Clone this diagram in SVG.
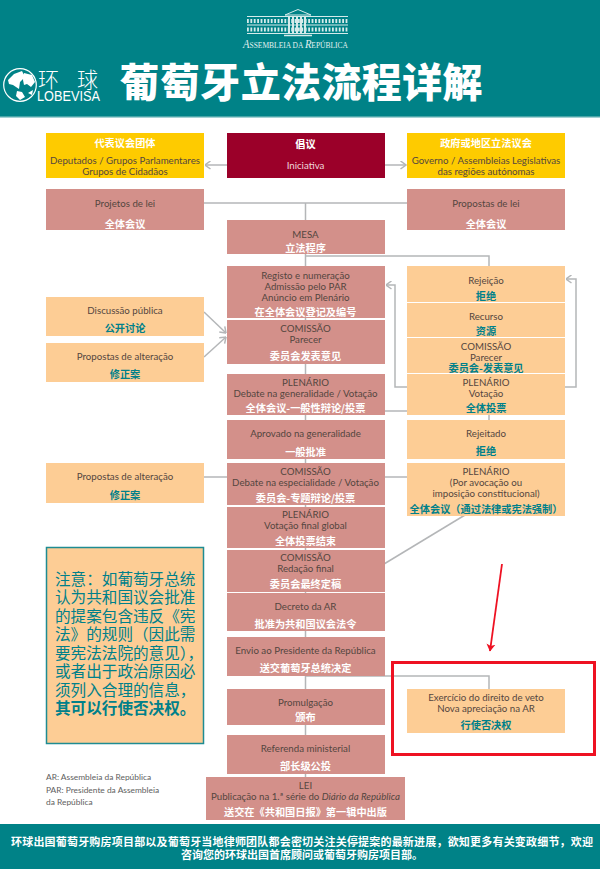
<svg xmlns="http://www.w3.org/2000/svg" width="600" height="869" viewBox="0 0 600 869">
<style>
text{font-family:"Lato","Noto Sans CJK SC",sans-serif;text-anchor:middle;font-size:9.7px;fill:#54463f}
.zw,.zt,.ftx{font-family:"Noto Sans CJK SC",sans-serif;font-weight:700}
.zw{font-size:10.2px;fill:#fff}
.zt{font-size:10.2px;fill:#00808a}
.sal{fill:#d3908a}.pea{fill:#fdcd95}.yel{fill:#fecb00}.cri{fill:#9b0029}
.con{fill:none;stroke:#b4b6b8;stroke-width:1.5}
.note{font-family:"Noto Sans CJK SC",sans-serif;font-size:15.6px;fill:#00808a;text-anchor:start}
.leg{font-size:8.4px;fill:#606060;text-anchor:start}
.ftx{font-size:11px;fill:#fff}
</style>
<defs>
<marker id="arrf" viewBox="0 0 7 9" refX="6.500" refY="4.500" markerWidth="7" markerHeight="9" markerUnits="userSpaceOnUse" orient="auto"><path d="M1 .5L6.500 4.500L1 8.500" fill="none" stroke="#b4b6b8" stroke-width="1.500"/></marker>
<marker id="red" viewBox="0 0 8 10" refX="7" refY="5" markerWidth="8" markerHeight="10" markerUnits="userSpaceOnUse" orient="auto"><path d="M0 .5L7.500 5L0 9.500L2 5Z" fill="#ee1122"/></marker>
</defs>
<rect width="600" height="869" fill="#fff"/>

<g id="header">
<rect width="600" height="117" fill="#008287"/>
<rect y="116" width="600" height="1.500" fill="#4aa6a9"/>
<g id="parliament-logo" fill="none" stroke="#d6ebeb">
<path d="M285 15L298 9.500L311 15H285Z" stroke-width="1"/>
<path d="M247 16.500H348M247 25H348M247 33.500H348" stroke-width="1"/>
<path d="M247 21H348M247 29.500H348" stroke-width="4" stroke-dasharray="1.800 1.600"/>
<path d="M289 16V34M293 16V34M297 16V34M301 16V34M305 16V34" stroke-width="2"/>
<path d="M284 35.500H312" stroke-width="1.500"/>
</g>
<text x="295.500" y="47.500" font-family="Liberation Serif, serif" fill="#e2f0f0" style="font-family:'Liberation Serif',serif;font-size:8.500px;fill:#e2f0f0" textLength="105" lengthAdjust="spacingAndGlyphs"><tspan font-style="italic" style="font-size:12px">A</tspan>SSEMBLEIA DA <tspan font-style="italic" style="font-size:12px">R</tspan>EPÚBLICA</text>
<g id="globevisa-logo">
<circle cx="20" cy="85" r="16.300" fill="#008287" stroke="#fff" stroke-width="1.200"/>
<path d="M8 80L14 74L22 71L25 77L20 82L19 89L13 85L9 84Z M24 73L32 75L35 82L31 87L27 84L24 85L23 80Z M17 91L22 92L25 97L20 100L16 96Z M28 93L33 90L32 95Z" fill="#fff"/>
<text x="38 77" y="87" style="font-family:'Noto Sans CJK SC',sans-serif;font-size:21px;fill:#fff;text-anchor:start;font-weight:300">环球</text>
<text x="68.500" y="101" style="font-family:'Liberation Sans',sans-serif;font-size:14.500px;fill:#fff" textLength="63" lengthAdjust="spacingAndGlyphs">LOBEVISA</text>
</g>
<text x="301" y="97" style="font-family:'Noto Sans CJK SC',sans-serif;font-size:40px;font-weight:900;fill:#fff" textLength="363">葡萄牙立法流程详解</text>
</g>

<g id="connectors">
<path class="con" d="M305.500 203V777"/>
<path class="con" d="M204 203H407"/>
<path class="con" d="M305.500 256H489V266"/>
<path class="con" d="M227 165H205" marker-end="url(#arrf)"/>
<path class="con" d="M384 165H406" marker-end="url(#arrf)"/>
<path class="con" d="M407 387H395V285H386" marker-end="url(#arrf)"/>
<path class="con" d="M565 387H576V279H566" marker-end="url(#arrf)"/>
<path class="con" d="M204 312L226 333" marker-end="url(#arrf)"/>
<path class="con" d="M204 357L226 337" marker-end="url(#arrf)"/>
<path class="con" d="M384 411H407"/>
<path class="con" d="M489 415V420"/>
<path class="con" d="M204 477H407"/>
<path class="con" d="M465 515L384 564"/>
<path class="con" d="M305.500 676H489V689"/>
</g>

<g id="red-annotation">
<path d="M502 564L490 651" fill="none" stroke="#ee1122" stroke-width="1.800" marker-end="url(#red)"/>
<rect x="392.500" y="662.500" width="202" height="92" fill="none" stroke="#ee1122" stroke-width="3"/>
</g>

<g id="n-deputados"><rect class="yel" x="46" y="133" width="158" height="45"/>
<text><tspan class="zw" x="125" y="147">代表议会团体</tspan><tspan x="125" y="163.500">Deputados / Grupos Parlamentares</tspan><tspan x="125" y="174.500">Grupos de Cidadãos</tspan></text></g>
<g id="n-iniciativa"><rect class="cri" x="227" y="133" width="158" height="45"/>
<text><tspan class="zw" x="305.500" y="148">倡议</tspan><tspan style="fill:#f0d8dc" x="305.500" y="169">Iniciativa</tspan></text></g>
<g id="n-governo"><rect class="yel" x="407" y="133" width="158" height="45"/>
<text><tspan class="zw" x="486" y="147">政府或地区立法议会</tspan><tspan x="486" y="163.500">Governo / Assembleias Legislativas</tspan><tspan x="486" y="174.500">das regiões autónomas</tspan></text></g>

<g id="n-projetos"><rect class="sal" x="46" y="189" width="158" height="41"/>
<text><tspan x="125" y="206.500">Projetos de lei</tspan><tspan class="zw" x="125" y="228">全体会议</tspan></text></g>
<g id="n-propostas-lei"><rect class="sal" x="407" y="189" width="158" height="41"/>
<text><tspan x="486" y="206.500">Propostas de lei</tspan><tspan class="zw" x="486" y="228">全体会议</tspan></text></g>
<g id="n-mesa"><rect class="sal" x="227" y="220" width="158" height="34"/>
<text><tspan x="305.500" y="237.500">MESA</tspan><tspan class="zw" x="305.500" y="252">立法程序</tspan></text></g>

<g id="n-registo"><rect class="sal" x="227" y="266" width="158" height="52"/>
<text><tspan x="305.500" y="279">Registo e numeração</tspan><tspan x="305.500" y="290">Admissão pelo PAR</tspan><tspan x="305.500" y="300.500">Anúncio em Plenário</tspan><tspan class="zw" x="305.500" y="316">在全体会议登记及编号</tspan></text></g>
<g id="n-comissao-parecer"><rect class="sal" x="227" y="320" width="158" height="44"/>
<text><tspan x="305.500" y="332">COMISSÃO</tspan><tspan x="305.500" y="343">Parecer</tspan><tspan class="zw" x="305.500" y="360">委员会发表意见</tspan></text></g>
<g id="n-plenario-gen"><rect class="sal" x="227" y="374" width="158" height="41"/>
<text><tspan x="305.500" y="385.500">PLENÁRIO</tspan><tspan x="305.500" y="396.500">Debate na generalidade / Votação</tspan><tspan class="zw" x="305.500" y="412">全体会议-一般性辩论/投票</tspan></text></g>
<g id="n-aprovado"><rect class="sal" x="227" y="420" width="158" height="39"/>
<text><tspan x="305.500" y="437">Aprovado na generalidade</tspan><tspan class="zw" x="305.500" y="455.500">一般批准</tspan></text></g>
<g id="n-comissao-esp"><rect class="sal" x="227" y="463" width="158" height="42"/>
<text><tspan x="305.500" y="475">COMISSÃO</tspan><tspan x="305.500" y="486">Debate na especialidade / Votação</tspan><tspan class="zw" x="305.500" y="501.500">委员会-专题辩论/投票</tspan></text></g>
<g id="n-plenario-final"><rect class="sal" x="227" y="507" width="158" height="41"/>
<text><tspan x="305.500" y="518">PLENÁRIO</tspan><tspan x="305.500" y="529">Votação final global</tspan><tspan class="zw" x="305.500" y="544.500">全体投票结束</tspan></text></g>
<g id="n-comissao-red"><rect class="sal" x="227" y="550" width="158" height="42"/>
<text><tspan x="305.500" y="561">COMISSÃO</tspan><tspan x="305.500" y="572">Redação final</tspan><tspan class="zw" x="305.500" y="588">委员会最终定稿</tspan></text></g>
<g id="n-decreto"><rect class="sal" x="227" y="593" width="158" height="38"/>
<text><tspan x="305.500" y="610">Decreto da AR</tspan><tspan class="zw" x="305.500" y="628">批准为共和国议会法令</tspan></text></g>
<g id="n-envio"><rect class="sal" x="227" y="637" width="158" height="39"/>
<text><tspan x="305.500" y="654">Envio ao Presidente da República</tspan><tspan class="zw" x="305.500" y="672">送交葡萄牙总统决定</tspan></text></g>
<g id="n-promulgacao"><rect class="sal" x="227" y="689" width="158" height="36"/>
<text><tspan x="305.500" y="706">Promulgação</tspan><tspan class="zw" x="305.500" y="721">颁布</tspan></text></g>
<g id="n-referenda"><rect class="sal" x="227" y="735" width="158" height="39"/>
<text><tspan x="305.500" y="752">Referenda ministerial</tspan><tspan class="zw" x="305.500" y="770">部长级公投</tspan></text></g>
<g id="n-lei"><rect class="sal" x="206" y="777" width="199" height="43"/>
<text><tspan x="305.500" y="789">LEI</tspan><tspan x="305.500" y="800">Publicação na 1.ª série do <tspan font-style="italic">Diário da República</tspan></tspan><tspan class="zw" x="305.500" y="816">送交在《共和国日报》第一辑中出版</tspan></text></g>

<g id="n-discussao"><rect class="pea" x="46" y="297" width="158" height="39"/>
<text><tspan x="125" y="314">Discussão pública</tspan><tspan class="zt" x="125" y="332">公开讨论</tspan></text></g>
<g id="n-alteracao1"><rect class="pea" x="46" y="343" width="158" height="39"/>
<text><tspan x="125" y="360">Propostas de alteração</tspan><tspan class="zt" x="125" y="378">修正案</tspan></text></g>
<g id="n-alteracao2"><rect class="pea" x="46" y="463" width="158" height="40"/>
<text><tspan x="125" y="480">Propostas de alteração</tspan><tspan class="zt" x="125" y="499">修正案</tspan></text></g>

<g id="n-rejeicao"><rect class="pea" x="407" y="266" width="158" height="36"/>
<text><tspan x="486" y="284">Rejeição</tspan><tspan class="zt" x="486" y="300">拒绝</tspan></text></g>
<g id="n-recurso"><rect class="pea" x="407" y="303" width="158" height="34"/>
<text><tspan x="486" y="319.500">Recurso</tspan><tspan class="zt" x="486" y="335">资源</tspan></text></g>
<g id="n-comissao-dir"><rect class="pea" x="407" y="338" width="158" height="35"/>
<text><tspan x="486" y="350">COMISSÃO</tspan><tspan x="486" y="360.500">Parecer</tspan><tspan class="zt" x="486" y="371.500">委员会-发表意见</tspan></text></g>
<g id="n-plenario-dir"><rect class="pea" x="407" y="374" width="158" height="41"/>
<text><tspan x="486" y="385.500">PLENÁRIO</tspan><tspan x="486" y="396.500">Votação</tspan><tspan class="zt" x="486" y="412">全体投票</tspan></text></g>
<g id="n-rejeitado"><rect class="pea" x="407" y="420" width="158" height="39"/>
<text><tspan x="486" y="437">Rejeitado</tspan><tspan class="zt" x="486" y="455">拒绝</tspan></text></g>
<g id="n-plenario-avoc"><rect class="pea" x="407" y="463" width="158" height="53"/>
<text><tspan x="486" y="475">PLENÁRIO</tspan><tspan x="486" y="486">(Por avocação ou</tspan><tspan x="486" y="496.500">imposição constitucional)</tspan><tspan class="zt" x="486" y="512.500">全体会议（通过法律或宪法强制）</tspan></text></g>
<g id="n-veto"><rect class="pea" x="407" y="689" width="158" height="44"/>
<text><tspan x="486" y="700.500">Exercício do direito de veto</tspan><tspan x="486" y="711.500">Nova apreciação na AR</tspan><tspan class="zt" x="486" y="729">行使否决权</tspan></text></g>

<g id="n-note"><rect class="pea" x="46.500" y="547.500" width="157" height="196" stroke="#1f8c92" stroke-width="1.500"/>
<text class="note"><tspan x="55" y="584.500">注意：如葡萄牙总统</tspan><tspan x="55" y="603">认为共和国议会批准</tspan><tspan x="55" y="621.500">的提案包含违反《宪</tspan><tspan x="55" y="640">法》的规则（因此需</tspan><tspan x="55" y="658.500">要宪法法院的意见），</tspan><tspan x="55" y="677">或者出于政治原因必</tspan><tspan x="55" y="695.500">须列入合理的信息，</tspan><tspan x="55" y="714" font-weight="700">其可以行使否决权。</tspan></text></g>

<g id="legend">
<text class="leg"><tspan x="46" y="780">AR: Assembleia da República</tspan><tspan x="46" y="793">PAR: Presidente da Assembleia</tspan><tspan x="46" y="805">da República</tspan></text>
</g>

<g id="footer">
<rect y="824" width="600" height="45" fill="#008287"/>
<text class="ftx"><tspan x="302" y="846" textLength="582">环球出国葡萄牙购房项目部以及葡萄牙当地律师团队都会密切关注关停提案的最新进展，欲知更多有关变政细节，欢迎</tspan><tspan x="302" y="859">咨询您的环球出国首席顾问或葡萄牙购房项目部。</tspan></text>
</g>
</svg>
